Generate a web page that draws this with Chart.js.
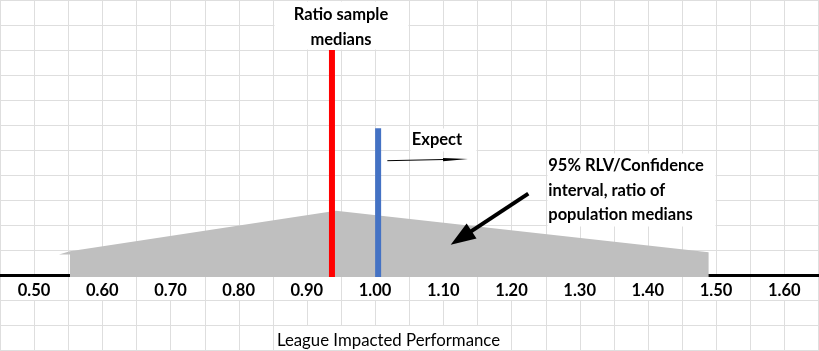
<!DOCTYPE html>
<html><head><meta charset="utf-8">
<script src="https://cdn.jsdelivr.net/npm/chart.js@4.4.0/dist/chart.umd.min.js"></script>
<style>html,body{margin:0;padding:0;background:#fff;overflow:hidden}#wrap{width:819px;height:351px}</style>
</head><body><div id="wrap"><canvas id="c" width="819" height="351"></canvas></div>
<script>
// ---- data ----
const tickLabels = ["0.50","0.60","0.70","0.80","0.90","1.00","1.10","1.20","1.30","1.40","1.50","1.60"];
const intervalX = [0.5526, 0.5526, 0.5365, 0.5526, 0.9427, 1.4891, 1.4891];
const intervalY = [-0.08, 0.82, 0.82, 0.948, 2.572, 0.908, -0.08];
const sampleMedianX = [0.9368, 0.9368];
const sampleMedianY = [-0.08, 9.0];
const expectX = [1.0045, 1.0045];
const expectY = [-0.08, 5.87];
const axisTitle = "League Impacted Performance";
const ratioText = ["Ratio sample", "medians"];
const expectText = ["Expect"];
const ciText = ["95% RLV/Confidence", "interval, ratio of", "population medians"];

// ---- styling / layout helpers ----
const GRID = '#dedede';
const gridX = Array.from({length: 25}, (_, i) => +(0.45 + i * 0.05).toFixed(2));
const tickValues = tickLabels.map(Number);
const BOLD = 'bold 16.5px Lato';
const TITLE_FONT = '16.8px Lato';

const notes = [
  {lines: ratioText, x: 0.95, y0: 10.2, dy: 1.0, align: 'center', box: [0.85, 1.05, 11, 9]},
  {lines: expectText, x: 1.0908, y0: 5.2, dy: 1.0, align: 'center', box: [1.05, 1.15, 5.92, 4.92]},
  {lines: ciText, x: 1.254, y0: 4.16, dy: 0.98, align: 'left', box: [1.25, 1.50, 4.92, 1.92]}
];
const arrows = [
  {from: [1.018, 4.572], to: [1.1363, 4.64], w: 1, head: 25, half: 1.6},
  {from: [1.2247, 3.252], to: [1.1109, 1.208], w: 4, head: 25, half: 9}
];
const titlePos = {x: 1.0197, y: -2.82};

function drawArrow(ctx, x1, y1, x2, y2, w, head, half) {
  const dx = x2 - x1, dy = y2 - y1, L = Math.hypot(dx, dy);
  const ux = dx / L, uy = dy / L;
  const bx = x2 - ux * head, by = y2 - uy * head;
  ctx.strokeStyle = '#000'; ctx.fillStyle = '#000'; ctx.lineWidth = w; ctx.lineCap = 'butt';
  ctx.beginPath(); ctx.moveTo(x1, y1); ctx.lineTo(bx + ux * 2, by + uy * 2); ctx.stroke();
  ctx.beginPath(); ctx.moveTo(x2, y2);
  ctx.lineTo(bx - uy * half, by + ux * half);
  ctx.lineTo(bx + uy * half, by - ux * half);
  ctx.closePath(); ctx.fill();
}

const sheetPlugin = {
  id: 'sheet',
  beforeDraw(chart) {
    const {ctx, width, height} = chart;
    const xs = chart.scales.x, ys = chart.scales.y;
    ctx.save();
    ctx.fillStyle = '#fff'; ctx.fillRect(0, 0, width, height);
    ctx.strokeStyle = GRID; ctx.lineWidth = 1;
    const rowTop = ys.getPixelForValue(0), rowBot = Math.round(ys.getPixelForValue(-1));
    ctx.beginPath();
    for (const v of gridX) {
      const p = Math.round(xs.getPixelForValue(v)) + 0.5;
      if (tickValues.some(t => Math.abs(t - v) < 1e-6)) {
        ctx.moveTo(p, 0); ctx.lineTo(p, rowTop); ctx.moveTo(p, rowBot); ctx.lineTo(p, height);
      } else { ctx.moveTo(p, 0); ctx.lineTo(p, height); }
    }
    for (let v = 11; v >= -3; v--) {
      const p = Math.round(ys.getPixelForValue(v)) + 0.5;
      ctx.moveTo(0, p); ctx.lineTo(width, p);
    }
    ctx.stroke();
    // text boxes hide the sheet grid beneath them
    ctx.fillStyle = '#fff';
    for (const n of notes) {
      const l = Math.round(xs.getPixelForValue(n.box[0])) + 1.5, r = Math.round(xs.getPixelForValue(n.box[1])) - 0.5;
      const t = Math.round(ys.getPixelForValue(n.box[2])) + 1.5, b = Math.round(ys.getPixelForValue(n.box[3])) - 0.5;
      ctx.fillRect(l, t, r - l, b - t);
    }
    ctx.font = TITLE_FONT;
    const tw = ctx.measureText(axisTitle).width;
    const tx = xs.getPixelForValue(titlePos.x);
    const t0 = Math.round(ys.getPixelForValue(-2)) + 1;
    ctx.fillRect(tx - tw / 2 - 2, t0, tw + 4, 23);
    ctx.restore();
  },
  afterDraw(chart) {
    const {ctx} = chart;
    const xs = chart.scales.x, ys = chart.scales.y;
    ctx.save();
    ctx.fillStyle = '#000'; ctx.textBaseline = 'alphabetic';
    ctx.font = BOLD;
    for (const n of notes) {
      ctx.textAlign = n.align;
      n.lines.forEach((s, i) => ctx.fillText(s, xs.getPixelForValue(n.x), ys.getPixelForValue(n.y0 - i * n.dy)));
    }
    for (const a of arrows) {
      drawArrow(ctx, xs.getPixelForValue(a.from[0]), ys.getPixelForValue(a.from[1]),
        xs.getPixelForValue(a.to[0]), ys.getPixelForValue(a.to[1]), a.w, a.head, a.half);
    }
    ctx.font = TITLE_FONT; ctx.textAlign = 'center'; ctx.fillStyle = '#000';
    ctx.fillText(axisTitle, xs.getPixelForValue(titlePos.x), ys.getPixelForValue(titlePos.y));
    ctx.restore();
  }
};

function pts(xa, ya) { return xa.map((x, i) => ({x, y: ya[i]})); }

function build() {
  new Chart(document.getElementById('c'), {
    type: 'scatter',
    data: {datasets: [
      {label: '95% interval', data: pts(intervalX, intervalY), showLine: true, fill: 'shape', order: 3,
       backgroundColor: '#bfbfbf', borderColor: 'rgba(0,0,0,0)', borderWidth: 0, pointRadius: 0, tension: 0, clip: false},
      {label: 'Ratio sample medians', data: pts(sampleMedianX, sampleMedianY), showLine: true, order: 1,
       borderColor: '#ff0000', borderWidth: 6, borderCapStyle: 'butt', pointRadius: 0, fill: false, clip: false},
      {label: 'Expect', data: pts(expectX, expectY), showLine: true, order: 2,
       borderColor: '#4472c4', borderWidth: 6, borderCapStyle: 'butt', pointRadius: 0, fill: false, clip: false}
    ]},
    options: {
      responsive: false, animation: false, devicePixelRatio: 1,
      layout: {padding: 0},
      events: [],
      plugins: {legend: {display: false}, tooltip: {enabled: false}, title: {display: false}},
      scales: {
        x: {type: 'linear', position: 'bottom', min: 0.45, max: 1.651,
          afterBuildTicks: s => { s.ticks = tickValues.map(v => ({value: v})); },
          afterFit: s => { s.height = 74; },
          grid: {display: false, drawTicks: false},
          border: {display: false},
          ticks: {autoSkip: false, maxRotation: 0, minRotation: 0, padding: 4, color: '#000',
            font: {family: 'Lato', weight: 'bold', size: 16.5},
            callback: (v, i) => tickLabels[i]}
        },
        y: {type: 'linear', min: -0.08, max: 11,
          afterBuildTicks: s => { s.ticks = [{value: 0}]; },
          afterFit: s => { s.width = 0; },
          ticks: {display: false},
          grid: {drawTicks: false, color: '#000', lineWidth: 3},
          border: {display: false}
        }
      }
    },
    plugins: [sheetPlugin]
  });
}
if (document.fonts && document.fonts.load) {
  Promise.all([document.fonts.load('bold 16px Lato'), document.fonts.load('16px Lato')]).then(build, build);
} else build();
</script>
</body></html>
